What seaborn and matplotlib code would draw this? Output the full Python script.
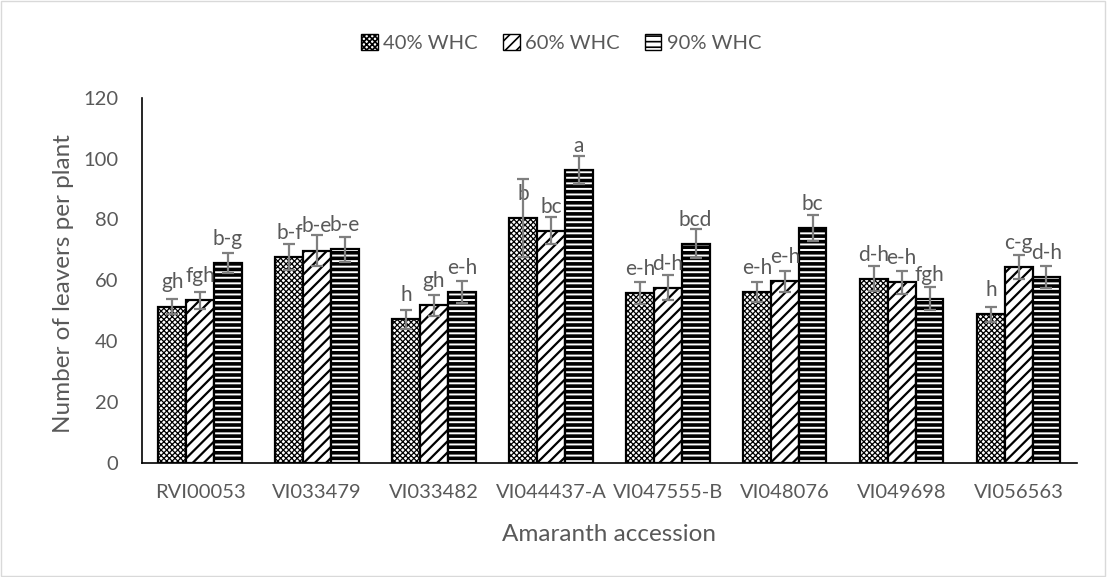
import matplotlib
matplotlib.use("Agg")
import matplotlib.pyplot as plt
import seaborn as sns
import pandas as pd
from matplotlib.patches import Patch, Rectangle

categories = ["RVI00053", "VI033479", "VI033482", "VI044437-A",
              "VI047555-B", "VI048076", "VI049698", "VI056563"]
series = ["40% WHC", "60% WHC", "90% WHC"]
w40 = [51.4, 67.6, 47.2, 80.5, 55.8, 56.3, 60.5, 48.8]
w60 = [53.4, 69.8, 51.8, 76.3, 57.6, 59.7, 59.3, 64.3]
w90 = [65.8, 70.2, 56.2, 96.3, 72.0, 77.2, 53.9, 61.1]
err40 = [2.5, 4.2, 3.1, 12.8, 3.6, 3.3, 4.1, 2.6]
err60 = [2.9, 5.0, 3.4, 4.4, 4.0, 3.4, 3.7, 4.0]
err90 = [3.3, 4.1, 3.6, 4.6, 4.8, 4.4, 3.8, 3.7]
lab40 = ["gh", "b-f", "h", "b", "e-h", "e-h", "d-h", "h"]
lab60 = ["fgh", "b-e", "gh", "bc", "d-h", "e-h", "e-h", "c-g"]
lab90 = ["b-g", "b-e", "e-h", "a", "bcd", "bc", "fgh", "d-h"]
yticks = [0, 20, 40, 60, 80, 100, 120]

values = [w40, w60, w90]
errors = [err40, err60, err90]
letters = [lab40, lab60, lab90]
hatches = ["xxxxxx", "///", "---"]
hatch_lw = [0.9, 1.6, 2.6]

rows = []
for s, vals in zip(series, values):
    for c, v in zip(categories, vals):
        rows.append({"Accession": c, "Treatment": s, "Value": v})
df = pd.DataFrame(rows)

sns.set_theme(style="white")
plt.rcParams["font.family"] = ["Lato", "DejaVu Sans"]
plt.rcParams["hatch.linewidth"] = 1.2

gray = "#595959"
fig = plt.figure(figsize=(11.07, 5.77), dpi=100)
ax = fig.add_axes([0.128, 0.1976, 0.845, 0.633])

sns.barplot(data=df, x="Accession", y="Value", hue="Treatment",
            order=categories, hue_order=series,
            palette=["white", "white", "white"], width=0.713, gap=0,
            errorbar=None, legend=False, ax=ax,
            edgecolor="black", linewidth=1.6)

for cont, h, hl, errs, labs, vals in zip(ax.containers, hatches, hatch_lw,
                                          errors, letters, values):
    xs = []
    for bar in cont:
        bar.set_hatch(h)
        bar.set_edgecolor("black")
        if hasattr(bar, "set_hatch_linewidth"):
            bar.set_hatch_linewidth(hl)
        xs.append(bar.get_x() + bar.get_width() / 2)
    ax.errorbar(xs, vals, yerr=errs, fmt="none", ecolor="#7f7f7f",
                elinewidth=1.6, capsize=4.5, capthick=1.6, zorder=5)
    for x, v, t in zip(xs, vals, labs):
        ax.annotate(t, (x, v), xytext=(0, 13), textcoords="offset points",
                    ha="center", va="baseline", fontsize=15, color=gray)

ax.set_xlim(-0.5, len(categories) - 0.5)
ax.set_ylim(0, 120)
ax.set_yticks(yticks)
ax.set_yticklabels([str(t) for t in yticks])
ax.tick_params(axis="both", length=0, labelsize=14.5, labelcolor=gray)
ax.tick_params(axis="y", pad=17)
ax.tick_params(axis="x", pad=15)
for side in ["top", "right"]:
    ax.spines[side].set_visible(False)
for side in ["left", "bottom"]:
    ax.spines[side].set_color("black")
    ax.spines[side].set_linewidth(1.2)

ax.set_xlabel("Amaranth accession", fontsize=17.5, color=gray)
ax.set_ylabel("Number of leavers per plant", fontsize=17.5, color=gray)
ax.xaxis.set_label_coords(0.5, -0.168)
ax.yaxis.set_label_coords(-0.072, 0.49)

handles = [Patch(facecolor="white", edgecolor="black", hatch=h, label=s)
           for h, s in zip(hatches, series)]
leg = fig.legend(handles=handles, loc="center", bbox_to_anchor=(0.507, 0.925),
                 ncol=3, frameon=False, fontsize=14.5, handlelength=0.8,
                 handleheight=0.8, handletextpad=0.25, columnspacing=1.3)
for t in leg.get_texts():
    t.set_color(gray)

fig.patches.append(Rectangle((0.001, 0.002), 0.997, 0.996, transform=fig.transFigure,
                             fill=False, edgecolor="#d9d9d9", linewidth=1))

fig.savefig("out.png", dpi=100)
